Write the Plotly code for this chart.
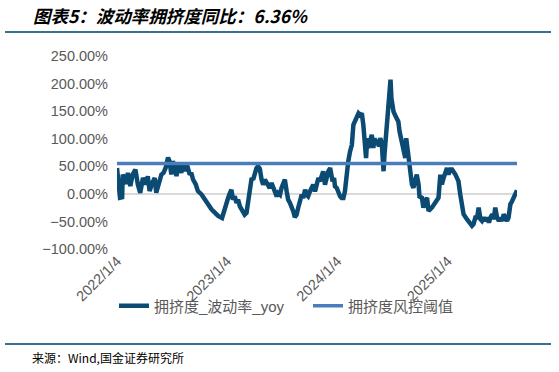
import plotly.graph_objects as go

# ---- data ----
dates = [
    "2022-01-04", "2022-01-09", "2022-01-14", "2022-01-21", "2022-01-23", "2022-01-31", "2022-02-04", "2022-02-09",
    "2022-02-17", "2022-02-25", "2022-03-06", "2022-03-14", "2022-03-22", "2022-03-31", "2022-04-09", "2022-04-16",
    "2022-04-22", "2022-05-01", "2022-05-09", "2022-05-14", "2022-05-25", "2022-05-31", "2022-06-07", "2022-06-14",
    "2022-06-22", "2022-06-27", "2022-07-03", "2022-07-08", "2022-07-14", "2022-07-20", "2022-07-25", "2022-07-31",
    "2022-08-05", "2022-08-10", "2022-08-16", "2022-08-22", "2022-08-27", "2022-09-02", "2022-09-07", "2022-09-13",
    "2022-09-22", "2022-09-29", "2022-10-11", "2022-10-22", "2022-11-01", "2022-11-13", "2022-11-24", "2022-12-05",
    "2022-12-18", "2022-12-25", "2023-01-02", "2023-01-07", "2023-01-13", "2023-01-18", "2023-01-23", "2023-01-29",
    "2023-02-04", "2023-02-09", "2023-02-15", "2023-02-20", "2023-02-26", "2023-03-03", "2023-03-09", "2023-03-14",
    "2023-03-20", "2023-03-26", "2023-03-31", "2023-04-06", "2023-04-11", "2023-04-16", "2023-04-22", "2023-04-28",
    "2023-05-03", "2023-05-09", "2023-05-14", "2023-05-20", "2023-05-25", "2023-05-31", "2023-06-05", "2023-06-11",
    "2023-06-17", "2023-06-22", "2023-06-28", "2023-07-03", "2023-07-08", "2023-07-14", "2023-07-20", "2023-07-25",
    "2023-07-31", "2023-08-05", "2023-08-11", "2023-08-16", "2023-08-22", "2023-08-27", "2023-09-02", "2023-09-08",
    "2023-09-13", "2023-09-19", "2023-09-24", "2023-09-29", "2023-10-05", "2023-10-11", "2023-10-16", "2023-10-22",
    "2023-10-27", "2023-11-02", "2023-11-07", "2023-11-13", "2023-11-18", "2023-11-24", "2023-11-30", "2023-12-05",
    "2023-12-11", "2023-12-16", "2023-12-19", "2023-12-24", "2023-12-27", "2024-01-02", "2024-01-07", "2024-01-13",
    "2024-01-18", "2024-01-24", "2024-01-29", "2024-02-04", "2024-02-09", "2024-02-15", "2024-02-21", "2024-02-26",
    "2024-03-03", "2024-03-08", "2024-03-14", "2024-03-19", "2024-03-25", "2024-03-30", "2024-04-05", "2024-04-08",
    "2024-04-12", "2024-04-16", "2024-04-21", "2024-04-27", "2024-05-02", "2024-05-06", "2024-05-11", "2024-05-16",
    "2024-05-21", "2024-05-25", "2024-05-30", "2024-06-05", "2024-06-08", "2024-06-12", "2024-06-16", "2024-06-19",
    "2024-06-22", "2024-06-26", "2024-06-28", "2024-07-01", "2024-07-04", "2024-07-08", "2024-07-13", "2024-07-19",
    "2024-07-24", "2024-07-28", "2024-08-01", "2024-08-05", "2024-08-10", "2024-08-16", "2024-08-19", "2024-08-23",
    "2024-08-26", "2024-09-01", "2024-09-07", "2024-09-12", "2024-09-18", "2024-09-23", "2024-09-29", "2024-10-02",
    "2024-10-10", "2024-10-15", "2024-10-21", "2024-10-27", "2024-11-01", "2024-11-12", "2024-11-23", "2024-12-04",
    "2024-12-10", "2024-12-15", "2024-12-21", "2024-12-26", "2025-01-01", "2025-01-06", "2025-01-12", "2025-01-18",
    "2025-01-23", "2025-01-29", "2025-02-03", "2025-02-08", "2025-02-14", "2025-02-20", "2025-02-25", "2025-03-08",
    "2025-03-19", "2025-03-25", "2025-03-30", "2025-04-05", "2025-04-11", "2025-04-16", "2025-04-22", "2025-04-27",
    "2025-05-03", "2025-05-09", "2025-05-14", "2025-05-20", "2025-05-25", "2025-05-31", "2025-06-05", "2025-06-10",
    "2025-06-16", "2025-06-22", "2025-06-27", "2025-07-03", "2025-07-08", "2025-07-14", "2025-07-19", "2025-07-24",
    "2025-07-30", "2025-08-05", "2025-08-10", "2025-08-16", "2025-08-21",
]

crowding_vol_yoy = [  # percent
    47, 14, -7, -6, 35, 23, 18, 38,
    14, 35, 44, 17, 2, 29, 17, 32,
    5, 20, 29, 2, 20, 35, 38, 47,
    66, 59, 35, 59, 50, 32, 56, 47,
    38, 53, 41, 56, 47, 35, 38, 26,
    17, 5, -1, -10, -19, -28, -34, -40,
    -43.7, -28.7, -16.6, -7.5, 1.5, 7.5, -10.6, -4.5,
    -16.6, -10.6, -22.6, -28.7, -31.7, -37.7, -34.7, -13.6,
    10.6, 28.7, 25.7, 40.7, 46.7, 49.8, 45.5, 25.7,
    16.6, 25.7, 19.6, 16.6, 10.6, 19.6, 10.6, 4.5,
    -4.5, 1.5, -1.5, 10.6, 16.6, 25.7, 4.5, -10.6,
    -16.6, -22.6, -31.7, -42.5, -37.7, -25.6, -13.6, -1.5,
    -7.5, 7.5, -1.5, -4.5, 4.5, 13.6, 16.6, 4.5,
    19.6, 28.7, 22.6, 34.7, 40.7, 16.7, 34.8, 40.9,
    46.9, 34.8, 22.8, 28.8, 13.7, 10.7, 1.7, -4.3,
    -7.3, -7.3, 4.7, 40.9, 59, 77, 89, 125,
    134, 137, 146, 143, 146, 125, 77, 65,
    101, 83, 95, 107, 83, 101, 89, 98,
    86, 101, 92, 41, 71, 101, 113, 137,
    161, 186, 207, 173, 155, 149, 143, 137,
    131, 113, 101, 89, 77, 65, 101, 83,
    65, 47, 17, 11, 23, 35, 17, -5,
    -7, -25, -13, -7, -31, -25, -16, -7,
    35, 17, 29, 41, 47, 35, 44, 44,
    41, 35, 29, 23, -1, -25, -37, -46,
    -55, -58, -55, -43, -43, -25, -46, -49,
    -43, -49, -43, -52, -43, -37, -46, -25,
    -43, -49, -43, -49, -37, -43, -49, -43,
    -19, -13, -7, -1, 6.36,
]

THRESHOLD = 55  # percent

x_tick_dates = ["2022-01-04", "2023-01-04", "2024-01-04", "2025-01-04"]
x_tick_labels = ["2022/1/4", "2023/1/4", "2024/1/4", "2025/1/4"]
y_tick_values = [-100, -50, 0, 50, 100, 150, 200, 250]

series_name = "拥挤度_波动率_yoy"
threshold_name = "拥挤度风控阈值"
title_text = "图表5：波动率拥挤度同比：6.36%"
source_text = "来源：Wind,国金证券研究所"

# ---- figure ----
W, H = 559, 372
plot_left, plot_right, plot_top, plot_bottom = 117, 517, 56, 249
L, R, T, B = plot_left, W - plot_right, plot_top, H - plot_bottom
plot_w = plot_right - plot_left
plot_h = plot_bottom - plot_top


def px_x(x):
    return (x - plot_left) / plot_w


def px_y(y):
    return (plot_bottom - y) / plot_h


fig = go.Figure()
fig.add_trace(go.Scatter(
    x=dates, y=[v / 100 for v in crowding_vol_yoy], mode="lines",
    name=series_name, line=dict(color="#0B4A72", width=4.5), legend="legend",
))
fig.add_trace(go.Scatter(
    x=[dates[0], dates[-1]], y=[THRESHOLD / 100] * 2, mode="lines",
    name=threshold_name, line=dict(color="#4A7EBB", width=3.5), legend="legend2",
))

tick_font = dict(family="Liberation Sans, Arial, sans-serif", size=14.5, color="#595959")
legend_font = dict(family="Liberation Sans, Noto Sans CJK SC, sans-serif", size=15, color="#595959")

fig.update_layout(
    width=W, height=H,
    margin=dict(l=L, r=R, t=T, b=B, autoexpand=False),
    paper_bgcolor="white", plot_bgcolor="white",
    title=dict(
        text=title_text, xref="container", yref="container",
        x=33 / W, xanchor="left", y=1 - 17 / H, yanchor="middle",
        font=dict(family="Noto Sans CJK SC", size=17.5, color="#000000", weight="bold", style="italic"),
    ),
    xaxis=dict(
        type="date", range=[dates[0], dates[-1]],
        tickvals=x_tick_dates, ticktext=x_tick_labels, tickangle=-45,
        showgrid=False, showline=False, zeroline=False, ticks="",
        tickfont=tick_font, automargin=False,
    ),
    yaxis=dict(
        range=[-1.0, 2.5], tickvals=[v / 100 for v in y_tick_values], tickformat=".2%",
        showgrid=False, showline=False, zeroline=True, zerolinecolor="#D9D9D9", zerolinewidth=1.5,
        ticks="", ticklabelstandoff=8, tickfont=tick_font, automargin=False,
    ),
    showlegend=True,
    legend=dict(
        orientation="h", x=px_x(114), xanchor="left", y=px_y(306), yanchor="middle",
        font=legend_font, bgcolor="rgba(0,0,0,0)", itemwidth=30,
    ),
    legend2=dict(
        orientation="h", x=px_x(308), xanchor="left", y=px_y(306), yanchor="middle",
        font=legend_font, bgcolor="rgba(0,0,0,0)", itemwidth=30,
    ),
    shapes=[
        dict(type="line", xref="paper", yref="paper", x0=px_x(5), x1=px_x(551), y0=px_y(32), y1=px_y(32),
             line=dict(color="#37708F", width=2)),
        dict(type="line", xref="paper", yref="paper", x0=px_x(5), x1=px_x(551), y0=px_y(344), y1=px_y(344),
             line=dict(color="#37708F", width=2)),
    ],
    annotations=[
        dict(text=source_text, xref="paper", yref="paper", x=px_x(30), y=px_y(357),
             xanchor="left", yanchor="middle", showarrow=False,
             font=dict(family="Noto Sans CJK SC", size=12, color="#000000")),
    ],
)

fig.write_html("out.html", config={"displayModeBar": False},
               post_script="document.body.style.margin = '0';")
